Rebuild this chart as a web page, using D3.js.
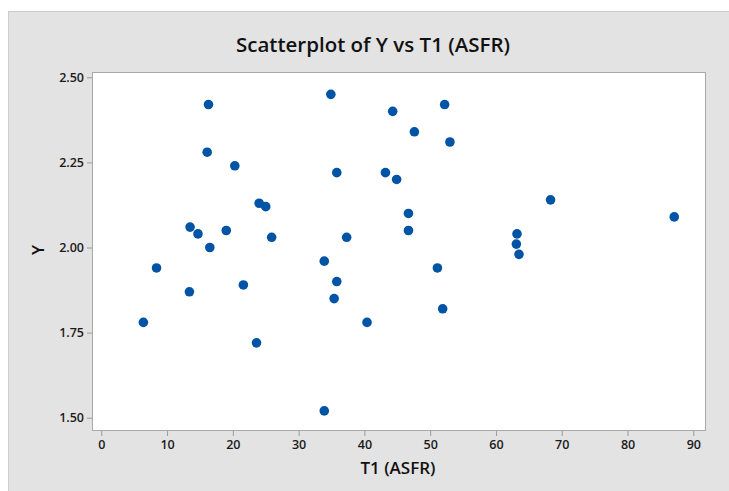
<!DOCTYPE html>
<html>
<head>
<meta charset="utf-8">
<script src="https://cdn.jsdelivr.net/npm/d3@7"></script>
<style>
  body { margin: 0; background: #ffffff; }
  text { font-family: "Open Sans", "Noto Sans", sans-serif; }
</style>
</head>
<body>
<div id="plotdiv"></div>
<script>
// data
const t1 = [16.3, 34.9, 44.3, 16.1, 20.3, 35.8, 43.2, 44.9, 24.0, 25.0,
  46.7, 46.7, 13.5, 14.7, 19.0, 25.9, 37.3, 16.5, 33.9, 52.2,
  47.6, 53.0, 68.3, 87.1, 63.2, 63.1, 63.5, 8.4, 13.4, 21.6,
  35.8, 35.4, 6.4, 23.6, 40.4, 33.9, 51.1, 51.9];
const yv = [2.42, 2.45, 2.40, 2.28, 2.24, 2.22, 2.22, 2.20, 2.13, 2.12,
  2.10, 2.05, 2.06, 2.04, 2.05, 2.03, 2.03, 2.00, 1.96, 2.42,
  2.34, 2.31, 2.14, 2.09, 2.04, 2.01, 1.98, 1.94, 1.87, 1.89,
  1.90, 1.85, 1.78, 1.72, 1.78, 1.52, 1.94, 1.82];
const xTicks = [0, 10, 20, 30, 40, 50, 60, 70, 80, 90];
const yTicks = [1.50, 1.75, 2.00, 2.25, 2.50];

const W = 729, H = 491;
const box = {left: 92, right: 706, top: 72, bottom: 431};

const svg = d3.select("#plotdiv")
  .append("svg")
  .attr("width", W)
  .attr("height", H);

// outer panel
svg.append("rect")
  .attr("x", 8.5).attr("y", 11.5)
  .attr("width", W).attr("height", H)
  .attr("fill", "#e3e3e3")
  .attr("stroke", "#cccccc");

// data region
svg.append("rect")
  .attr("x", box.left + 0.5).attr("y", box.top + 0.5)
  .attr("width", box.right - box.left - 1)
  .attr("height", box.bottom - box.top - 1)
  .attr("fill", "#ffffff")
  .attr("stroke", "#a8a8a8");

const x = d3.scaleLinear()
  .domain([-1.41, 91.93])
  .range([box.left, box.right]);

const y = d3.scaleLinear()
  .domain([1.461, 2.5156])
  .range([box.bottom, box.top]);

// axes
const xAxis = svg.append("g")
  .attr("transform", "translate(0," + box.bottom + ")")
  .call(d3.axisBottom(x).tickValues(xTicks).tickSize(5).tickPadding(4).tickFormat(d3.format("d")));

const yAxis = svg.append("g")
  .attr("transform", "translate(" + box.left + ",0)")
  .call(d3.axisLeft(y).tickValues(yTicks).tickSize(5).tickPadding(3).tickFormat(d3.format(".2f")));

[xAxis, yAxis].forEach(g => {
  g.select(".domain").remove();
  g.selectAll(".tick line").attr("stroke", "#9a9a9a");
  g.selectAll(".tick text")
    .attr("fill", "#1a1a1a")
    .style("font-size", "12.5px")
    .style("font-weight", "600");
});

// points
svg.append("g")
  .selectAll("circle")
  .data(t1)
  .enter()
  .append("circle")
  .attr("cx", (d, i) => x(d))
  .attr("cy", (d, i) => y(yv[i]))
  .attr("r", 4.8)
  .attr("fill", "#0054a6");

// title and labels
svg.append("text")
  .attr("x", 373).attr("y", 52)
  .attr("text-anchor", "middle")
  .style("font-size", "20.5px")
  .style("font-weight", "600")
  .attr("fill", "#111")
  .text("Scatterplot of Y vs T1 (ASFR)");

svg.append("text")
  .attr("x", 398).attr("y", 474)
  .attr("text-anchor", "middle")
  .style("font-size", "17px")
  .style("font-weight", "600")
  .attr("fill", "#111")
  .text("T1 (ASFR)");

svg.append("text")
  .attr("transform", "translate(44,250) rotate(-90)")
  .attr("text-anchor", "middle")
  .style("font-size", "17px")
  .style("font-weight", "600")
  .attr("fill", "#111")
  .text("Y");
</script>
</body>
</html>
